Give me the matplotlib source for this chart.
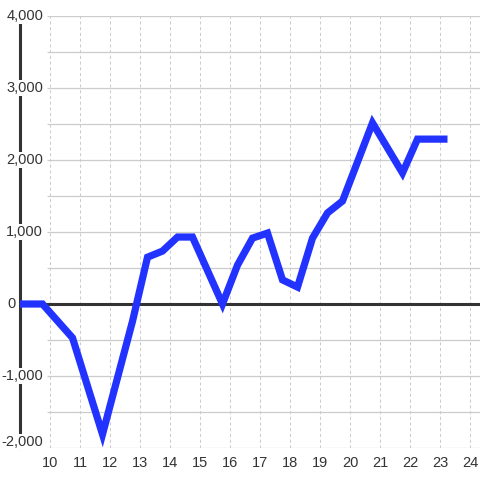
import matplotlib
matplotlib.use("Agg")
import matplotlib.pyplot as plt
import numpy as np

plt.rcParams["font.family"] = ["Liberation Sans", "DejaVu Sans"]

# values
x_vals = [9.0, 9.75, 10.75, 11.75, 12.75, 13.25, 13.75, 14.25, 14.75, 15.75,
          16.25, 16.75, 17.25, 17.75, 18.25, 18.75, 19.25, 19.75, 20.75,
          21.75, 22.25, 23.25]
y_vals = [0, 0, -470, -1810, -240, 650, 735, 930, 930, 0,
          540, 915, 985, 335, 235, 915, 1265, 1430, 2515,
          1820, 2290, 2290]
x_ticks = list(range(10, 25))
y_ticks = [4000, 3000, 2000, 1000, 0, -1000, -2000]
y_tick_labels = ["4,000", "3,000", "2,000", "1,000", "0", "-1,000", "-2,000"]

XMIN, XMAX = 9.0, 9.0 + 460 / 30
YMIN, YMAX = -2000, 4000
TXT = "#333333"
GRID = "#cccccc"

fig = plt.figure(figsize=(4.8, 4.8), dpi=100)
ax = fig.add_axes([20 / 480, 32 / 480, 460 / 480, 432 / 480])
ax.set_xlim(XMIN, XMAX)
ax.set_ylim(YMIN, YMAX)

for s in ["top", "right", "bottom"]:
    ax.spines[s].set_visible(False)
ax.spines["left"].set_color(TXT)
ax.spines["left"].set_linewidth(2.2)
ax.spines["left"].set_zorder(3)

# grid
ax.vlines(x_ticks, YMIN, YMAX, colors=GRID, linewidth=0.75,
          linestyles=(0, (3, 2.5)), zorder=1)
h_levels = [v for v in np.arange(YMIN, YMAX + 1, 500) if v != 0]
ax.hlines(h_levels, 9.9, XMAX, colors=GRID, linewidth=0.9, zorder=1)
ax.hlines(0, XMIN, XMAX, colors=TXT, linewidth=2.2, zorder=2)

# the series
ax.plot(x_vals, y_vals, color="#2233ff", linewidth=5.2,
        solid_joinstyle="miter", solid_capstyle="butt", zorder=4,
        clip_on=False)

# y labels sit on top of the spine with a white box
ax.set_yticks([])
for v, lab in zip(y_ticks, y_tick_labels):
    yy = v + 80 if v == YMIN else v
    if v == 0:
        ax.text(9.0 - 4.5 / 30, yy, lab, ha="right", va="center",
                fontsize=10.5, color=TXT, zorder=6, clip_on=False)
        continue
    ax.text(9.77, yy, lab, ha="right", va="center", fontsize=10.5,
            color=TXT, zorder=6, clip_on=False,
            bbox=dict(facecolor="white", edgecolor="none", pad=0.6))

ax.set_xticks(x_ticks)
ax.set_xticklabels([str(t) for t in x_ticks], fontsize=10.5, color=TXT)
ax.tick_params(axis="x", length=0, pad=6)

fig.savefig("out.png", dpi=100, facecolor="white")
